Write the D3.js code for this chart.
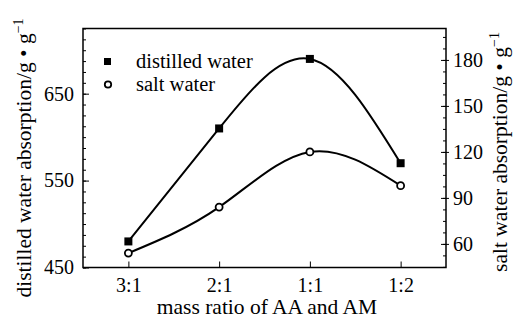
<!DOCTYPE html>
<html><head><meta charset="utf-8">
<script src="https://cdn.jsdelivr.net/npm/d3@7"></script>
<style>body{margin:0;background:#fff}svg{display:block}</style>
</head><body>
<script>
const categories = ["3:1","2:1","1:1","1:2"];
const distilled = [480, 610, 690, 570];
const salt = [54, 84, 120, 98];
const leftTicks = [450, 550, 650];
const rightTicks = [60, 90, 120, 150, 180];

const W = 515, H = 320;
const L = 83, R = 446, T = 28.5, B = 267.5;
const FS = 20;
const FONT = "'Liberation Serif', 'DejaVu Serif', serif";
const svg = d3.select("body").append("svg").attr("width", W).attr("height", H);

const x = d3.scalePoint().domain(categories).range([L, R]).padding(0.5);
const yL = d3.scaleLinear().domain([450, 725]).range([B, T]);
const yR = d3.scaleLinear().domain([44.6, 200.5]).range([B, T]);

svg.append("rect").attr("x", L).attr("y", T).attr("width", R - L).attr("height", B - T)
  .attr("fill", "none").attr("stroke", "#000").attr("stroke-width", 1.5);

const gL = svg.append("g").attr("transform", `translate(${L},0)`);
gL.call(d3.axisRight(yL).tickValues(d3.range(450, 725.1, 12.5)).tickSize(3).tickFormat(""));
gL.call(g => g.append("g").call(d3.axisRight(yL).tickValues(leftTicks).tickSize(6).tickFormat("")));
svg.append("g").attr("transform", `translate(${L},0)`)
  .call(d3.axisLeft(yL).tickValues(leftTicks).tickSize(0).tickPadding(9).tickFormat(d3.format("d")));

const gR = svg.append("g").attr("transform", `translate(${R},0)`);
gR.call(d3.axisLeft(yR).tickValues(d3.range(45, 200, 7.5)).tickSize(3).tickFormat(""));
gR.call(g => g.append("g").call(d3.axisLeft(yR).tickValues(rightTicks).tickSize(5).tickFormat("")));
svg.append("g").attr("transform", `translate(${R},0)`)
  .call(d3.axisRight(yR).tickValues(rightTicks).tickSize(3).tickPadding(4).tickFormat(d3.format("d")));

const gB = svg.append("g").attr("transform", `translate(0,${B})`);
gB.call(d3.axisTop(x).tickSize(6).tickFormat(""));
svg.append("g").attr("transform", `translate(0,${B})`)
  .call(d3.axisBottom(x).tickSize(0).tickPadding(10));

svg.selectAll(".domain").remove();
svg.selectAll("g").attr("font-family", null);
svg.selectAll(".tick line").attr("stroke", "#000").attr("stroke-width", 1);
svg.selectAll(".tick text").attr("font-size", FS);

const lineD = d3.line().x((d, i) => x(categories[i])).y(d => yL(d)).curve(d3.curveNatural);
const lineS = d3.line().x((d, i) => x(categories[i])).y(d => yR(d)).curve(d3.curveNatural);
svg.append("path").attr("d", lineD(distilled)).attr("fill", "none").attr("stroke", "#000").attr("stroke-width", 2);
svg.append("path").attr("d", lineS(salt)).attr("fill", "none").attr("stroke", "#000").attr("stroke-width", 2);

svg.selectAll(".sq").data(distilled).enter().append("rect")
  .attr("x", (d, i) => x(categories[i]) - 4).attr("y", d => yL(d) - 4)
  .attr("width", 8).attr("height", 8).attr("fill", "#000");
svg.selectAll(".ci").data(salt).enter().append("circle")
  .attr("cx", (d, i) => x(categories[i])).attr("cy", d => yR(d)).attr("r", 3.5)
  .attr("fill", "#fff").attr("stroke", "#000").attr("stroke-width", 1.8);

svg.append("rect").attr("x", 104).attr("y", 58).attr("width", 7).attr("height", 7).attr("fill", "#000");
svg.append("circle").attr("cx", 108).attr("cy", 84.5).attr("r", 3.2).attr("fill", "#fff").attr("stroke", "#000").attr("stroke-width", 1.8);
svg.append("text").attr("x", 136).attr("y", 68).attr("font-size", 20.5).text("distilled water");
svg.append("text").attr("x", 136).attr("y", 91).attr("font-size", 20.5).text("salt water");

svg.append("text").attr("x", 267).attr("y", 314).attr("text-anchor", "middle").attr("font-size", 21.5)
  .text("mass ratio of AA and AM");
const lt = svg.append("text").attr("transform", `translate(31,158) rotate(-90)`).attr("text-anchor", "middle").attr("font-size", 21.5);
lt.append("tspan").text("distilled water absorption/g \u2022 g");
lt.append("tspan").attr("dy", -8).attr("font-size", 14).text("\u22121");
const rt = svg.append("text").attr("transform", `translate(507,152) rotate(-90)`).attr("text-anchor", "middle").attr("font-size", 21.5);
rt.append("tspan").text("salt water absorption/g \u2022 g");
rt.append("tspan").attr("dy", -8).attr("font-size", 14).text("\u22121");

svg.selectAll("text").style("font-family", FONT).attr("fill", "#000");
</script>
</body></html>
